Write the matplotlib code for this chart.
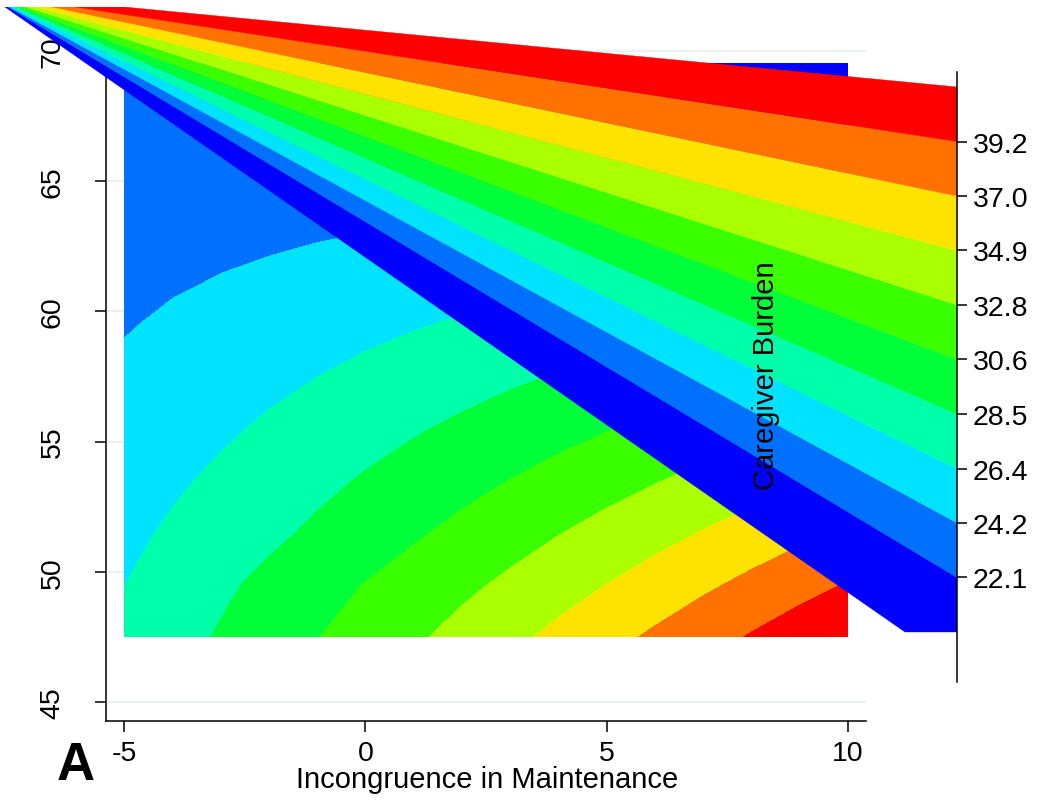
import numpy as np
import matplotlib.pyplot as plt
from matplotlib.patches import Polygon

plt.rcParams['font.family'] = ['Liberation Sans', 'DejaVu Sans']

W, H = 1038, 803

# predicted caregiver burden on a grid
incongruence = [-5, -4, -3, -2, -1, 0, 1, 2, 3, 4, 5, 6, 7, 8, 9, 10]
moderator = [47.5, 49.5, 51.5, 53.5, 55.5, 57.5, 59.5, 61.5, 63.5, 65.5, 67.5, 69.5]
burden = [
    [26.81, 27.75, 28.70, 29.64, 30.59, 31.53, 32.47, 33.46, 34.44, 35.43, 36.41, 37.39, 38.38, 39.36, 40.35, 41.33],
    [26.35, 27.25, 28.14, 29.01, 29.88, 30.71, 31.51, 32.34, 33.19, 34.07, 34.95, 35.82, 36.70, 37.58, 38.46, 39.34],
    [25.90, 26.63, 27.36, 28.08, 28.85, 29.62, 30.39, 31.16, 31.94, 32.71, 33.48, 34.25, 35.02, 35.80, 36.57, 37.34],
    [25.46, 26.08, 26.72, 27.35, 28.02, 28.69, 29.35, 30.02, 30.68, 31.35, 32.02, 32.68, 33.35, 34.01, 34.68, 35.34],
    [25.01, 25.54, 26.07, 26.63, 27.19, 27.75, 28.31, 28.87, 29.43, 29.99, 30.55, 31.11, 31.67, 32.23, 32.79, 33.35],
    [24.56, 25.00, 25.46, 25.91, 26.36, 26.82, 27.27, 27.72, 28.18, 28.63, 29.08, 29.54, 29.99, 30.44, 30.90, 31.35],
    [24.12, 24.49, 24.84, 25.19, 25.53, 25.88, 26.23, 26.58, 26.92, 27.27, 27.62, 27.97, 28.31, 28.66, 29.01, 29.36],
    [23.74, 23.98, 24.22, 24.46, 24.71, 24.95, 25.19, 25.43, 25.67, 25.91, 26.15, 26.40, 26.64, 26.88, 27.12, 27.36],
    [23.34, 23.47, 23.61, 23.74, 23.88, 24.01, 24.15, 24.28, 24.42, 24.55, 24.69, 24.82, 24.96, 25.09, 25.23, 25.37],
    [22.93, 22.96, 22.99, 23.02, 23.05, 23.08, 23.11, 23.14, 23.17, 23.19, 23.22, 23.25, 23.28, 23.31, 23.34, 23.37],
    [22.53, 22.45, 22.37, 22.30, 22.22, 22.14, 22.07, 21.99, 21.91, 21.84, 21.76, 21.68, 21.60, 21.53, 21.45, 21.37],
    [22.12, 21.94, 21.76, 21.57, 21.39, 21.21, 21.03, 20.84, 20.66, 20.48, 20.29, 20.11, 19.93, 19.74, 19.56, 19.38],
]

levels = [19.96, 22.10, 24.24, 26.37, 28.51, 30.65, 32.79, 34.93, 37.06, 39.20, 41.34]
level_labels = ['22.1', '24.2', '26.4', '28.5', '30.6', '32.8', '34.9', '37.0', '39.2']

x_ticks = [-5, 0, 5, 10]
x_labels = ['-5', '0', '5', '10']
y_ticks = [45, 50, 55, 60, 65, 70]
y_labels = ['45', '50', '55', '60', '65', '70']

band_colors = ['#0000ff', '#0071ff', '#00e3ff', '#00ffaa', '#00ff39',
               '#39ff00', '#aaff00', '#ffe300', '#ff7100', '#ff0000']

fig = plt.figure(figsize=(W / 100, H / 100), dpi=100)

# main contour panel
ax = fig.add_axes([106 / W, 1 - 722 / H, (866 - 106) / W, (722 - 31) / H])
Z = np.array(burden)
fill_levels = [min(Z.min(), levels[0])] + levels[1:-1] + [max(Z.max(), levels[-1])]
ax.contourf(incongruence, moderator, Z, levels=fill_levels, colors=band_colors)

ax.set_xlim(-5.373, 10.373)
ax.set_ylim(44.27, 70.8)
ax.set_axisbelow(True)
ax.yaxis.grid(True, color='#eaf1f2', lw=1.6)
for s in ['top', 'right']:
    ax.spines[s].set_visible(False)
for s in ['left', 'bottom']:
    ax.spines[s].set_linewidth(1.1)
ax.set_xticks(x_ticks, x_labels)
ax.set_yticks(y_ticks, y_labels, rotation=90, va='center')
ax.tick_params(axis='x', length=8, width=1.1, labelsize=20.5, pad=6)
ax.tick_params(axis='y', length=8, width=1.1, labelsize=20.5, pad=21)

# the colour key, drawn skewed across the panel
key_right = 957
key_foot = 905
key_left = [5, 8, 10, 13, 16, 20, 26, 36, 52, 75, 124]
key_top = 41.34 + 80 / 25.49
key_bottom = 41.34 - 595 / 25.49

key = fig.add_axes([0, 1 - 683 / H, key_right / W, (683 - 8) / H])
key.set_xlim(0, key_right)
key.set_ylim(key_bottom, key_top)
key.patch.set_visible(False)
for s in ['left', 'top', 'bottom']:
    key.spines[s].set_visible(False)
key.spines['right'].set_linewidth(1.1)
key.spines['right'].set_bounds(key_bottom, 41.34 + 15 / 25.49)

for j, col in enumerate(band_colors):
    pts = [(key_left[j], key_top)]
    if j == 0:
        pts.append((key_foot, levels[0]))
    pts += [(key_right, levels[j]), (key_right, levels[j + 1]), (key_left[j + 1], key_top)]
    key.add_patch(Polygon(pts, closed=True, facecolor=col, edgecolor=col, lw=0.3))

key.yaxis.tick_right()
key.set_yticks(levels[1:-1], level_labels)
key.set_xticks([])
key.tick_params(axis='y', length=7.5, width=1.1, labelsize=20.5, pad=4)

fig.text(766 / W, 1 - 376 / H, 'Caregiver Burden', rotation=90, fontsize=21,
         ha='center', va='center')
fig.text(487 / W, 1 - 780 / H, 'Incongruence in Maintenance', fontsize=21,
         ha='center', va='center')
fig.text(76 / W, 1 - 766 / H, 'A', fontsize=38, fontweight='bold',
         ha='center', va='center')

fig.savefig('out.png', dpi=100)
